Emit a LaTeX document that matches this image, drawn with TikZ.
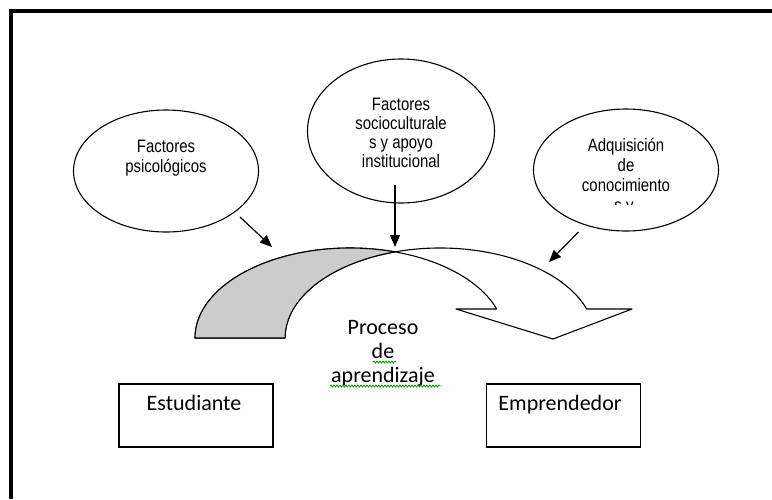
\documentclass[tikz,border=0pt]{standalone}
\usepackage{fontspec}
\setmainfont{Carlito}
\newfontfamily\narrowfont[FakeStretch=0.83]{Liberation Sans}
\usetikzlibrary{arrows.meta,shapes.geometric,decorations.pathmorphing}
\begin{document}
\begin{tikzpicture}[x=1pt,y=1pt,
  bubble/.style={draw, ellipse, line width=1.1pt, inner sep=0pt},
  btxt/.style={font=\narrowfont\fontsize{18}{20}\selectfont, align=center, inner sep=0pt, anchor=base},
  boxnode/.style={draw, rectangle, line width=1.4pt, inner sep=0pt, minimum width=154pt, minimum height=63pt},
  ltxt/.style={font=\fontsize{22}{24}\selectfont, inner sep=0pt, anchor=base},
  pointer/.style={line width=1.2pt, -{Triangle[length=12pt,width=10pt]}},
  bandline/.style={line width=1.1pt, line join=round},
  squiggle/.style={draw=green!60!black, line width=0.8pt, decorate, decoration={snake, amplitude=1pt, segment length=3pt}}
]
\useasboundingbox (0,0) rectangle (772,-499);
\fill[white] (0,0) rectangle (772,-499);
% frame
\draw[line width=3.5pt] (772,-10.8) -- (10.8,-10.8) -- (10.8,-499);

% curved arrow (white band + head)
\draw[bandline, fill=white] (195,-338)
  arc[start angle=180, end angle=18.8, x radius=155, y radius=90]
  -- (456,-309) -- (553,-339) -- (632,-309) -- (586.7,-309)
  arc[start angle=18.8, end angle=180, x radius=155, y radius=90]
  -- cycle;
% shaded part
\draw[bandline, fill=gray!40] (195,-338)
  arc[start angle=180, end angle=73.1, x radius=155, y radius=90]
  arc[start angle=106.9, end angle=180, x radius=155, y radius=90]
  -- cycle;

% ellipses
\node[bubble, minimum width=185pt, minimum height=122pt] (psy) at (166,-171) {};
\node[bubble, minimum width=187pt, minimum height=144pt] (soc) at (401,-131) {};
\node[bubble, minimum width=185pt, minimum height=122pt] (adq) at (626,-170) {};

% multi-line nodes: base anchor = baseline of last line
\node[btxt] (psyt) at (166,-172) {Factores\\psicológicos};
\node[btxt, font=\narrowfont\fontsize{18}{19}\selectfont] (soct) at (401,-167) {Factores\\socioculturale\\s y apoyo\\institucional};
\node[btxt] (adqt) at (626,-191) {Adquisición\\de\\conocimiento};
\begin{scope}
  \clip (560,-195) rectangle (690,-204);
  \node[btxt] (adqc) at (624,-211) {s y};
\end{scope}

% pointers
\coordinate (p1s) at (240,-217); \coordinate (p1e) at (272,-247);
\coordinate (p2s) at (395,-185); \coordinate (p2e) at (395,-247);
\coordinate (p3s) at (578.5,-232); \coordinate (p3e) at (549,-262);
\draw[pointer] (p1s) -- (p1e);
\draw[pointer] (p2s) -- (p2e);
\draw[pointer] (p3s) -- (p3e);

% boxes
\node[boxnode] (est) at (195.8,-415.5) {};
\node[boxnode] (emp) at (563.5,-415.5) {};
\node[ltxt] (estt) at (194,-410) {Estudiante};
\node[ltxt] (empt) at (560,-410) {Emprendedor};

% process label
\node[ltxt, align=center] (proc) at (383,-382) {Proceso\\de\\aprendizaje};
\draw[squiggle] (373,-362) -- (396,-362);
\draw[squiggle] (330,-386) -- (441,-386);
\end{tikzpicture}
\end{document}
